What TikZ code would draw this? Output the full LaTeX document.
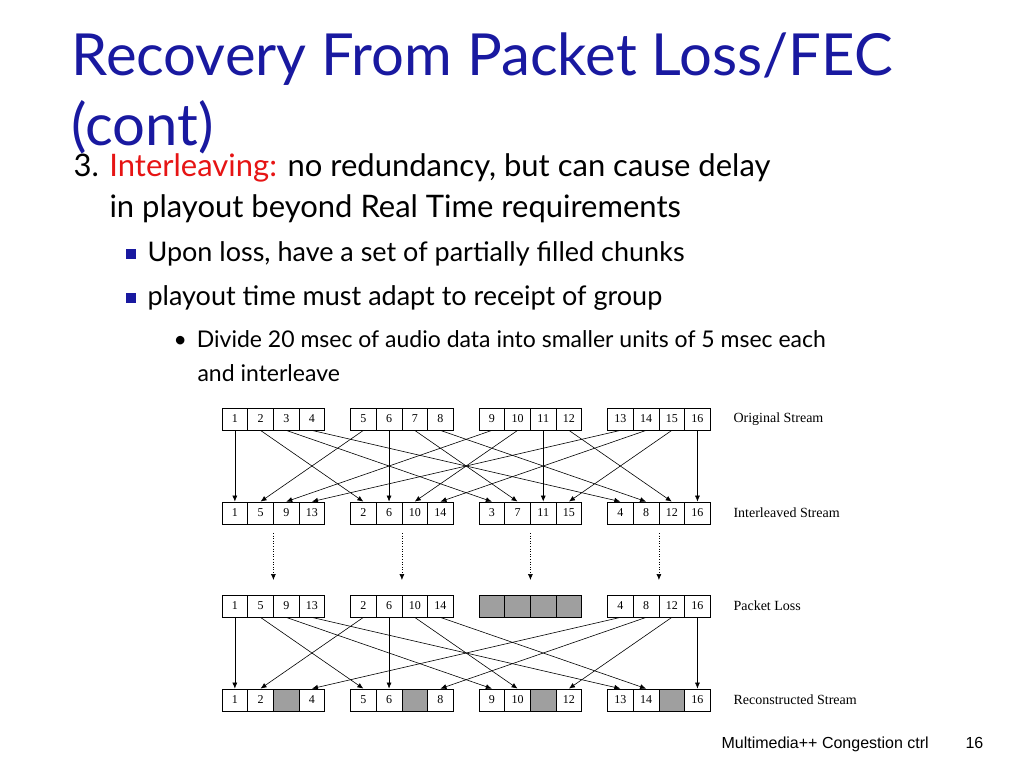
\documentclass[tikz,border=0pt]{standalone}
\usepackage{fontspec}
\setmainfont{Lato}
\newfontfamily\cellfont{Liberation Serif}
\newfontfamily\footfont{Liberation Sans}
\usetikzlibrary{arrows.meta}
\definecolor{titleblue}{RGB}{25,25,160}
\definecolor{hired}{RGB}{230,20,20}
\newcommand{\sqbullet}{\textcolor{titleblue}{\rule[2pt]{10pt}{10pt}}}

\begin{document}
\begin{tikzpicture}[x=1pt,y=-1pt,>={Latex[length=6pt,width=5pt]}]

  \tikzstyle{cell}=[draw,line width=0.8pt,minimum width=25.7pt,minimum height=22pt,
    inner sep=0pt,font=\cellfont\fontsize{12}{12}\selectfont]
  \tikzstyle{lost}=[cell,fill=gray!75]
  \tikzstyle{rowlabel}=[anchor=west,font=\cellfont\fontsize{14}{14}\selectfont]
  \tikzstyle{map}=[->,line width=0.6pt]
  \tikzstyle{send}=[->,line width=0.6pt,dotted]

  \useasboundingbox (0,0) rectangle (1024,768);

  \node[anchor=base west,text=titleblue,font=\fontsize{58}{58}\selectfont] (title) at (68,75) {Recovery From Packet Loss/FEC};
  \node[anchor=base west,text=titleblue,font=\fontsize{58}{58}\selectfont] (cont) at (68,145) {(cont)};
  \node[anchor=base west,font=\fontsize{31}{31}\selectfont] (b3) at (70,176) {3. \textcolor{hired}{Interleaving:} no redundancy, but can cause delay};
  \node[anchor=base west,font=\fontsize{31}{31}\selectfont] (b3b) at (106,217) {in playout beyond Real Time requirements};
  \node[anchor=base west,font=\fontsize{27}{27}\selectfont] (s1) at (122,261) {\sqbullet\hspace{12pt}Upon loss, have a set of partially filled chunks};
  \node[anchor=base west,font=\fontsize{27}{27}\selectfont] (s2) at (122,305) {\sqbullet\hspace{12pt}playout time must adapt to receipt of group};
  \node[anchor=base west,font=\fontsize{23}{23}\selectfont] (t1) at (170,347) {\textbullet\hspace{10pt}Divide 20 msec of audio data into smaller units of 5 msec each};
  \node[anchor=base west,font=\fontsize{23}{23}\selectfont] (t2) at (194,381) {and interleave};
  \node[anchor=base west,font=\footfont\fontsize{16}{16}\selectfont] (foot) at (718,748) {Multimedia++ Congestion ctrl};
  \node[anchor=base west,font=\footfont\fontsize{16}{16}\selectfont] (page) at (962,748) {16};

  % cells: group g, slot s
  \foreach \v in {1,...,16} {
    \pgfmathtruncatemacro{\g}{div(\v-1,4)}
    \pgfmathtruncatemacro{\s}{mod(\v-1,4)}
    \pgfmathtruncatemacro{\w}{\s*4+\g+1}
    \pgfmathsetmacro{\cx}{222+128.5*\g+12.85+25.7*\s}
    \node[cell] (o\v) at (\cx,419) {\v};
    \node[cell] (i\w) at (\cx,513) {\w};
    \ifnum\g=2
      \node[lost] (p\w) at (\cx,606) {};
    \else
      \node[cell] (p\w) at (\cx,606) {\w};
    \fi
    \ifnum\s=2
      \node[lost] (r\v) at (\cx,700) {};
    \else
      \node[cell] (r\v) at (\cx,700) {\v};
    \fi
  }

  \node[rowlabel] (lo) at (730,419) {Original Stream};
  \node[rowlabel] (li) at (730,513) {Interleaved Stream};
  \node[rowlabel] (lp) at (730,606) {Packet Loss};
  \node[rowlabel] (lr) at (730,700) {Reconstructed Stream};

  \foreach \v in {1,...,16} {
    \draw[map] (o\v.south) -- (i\v.north);
    \pgfmathtruncatemacro{\s}{mod(\v-1,4)}
    \ifnum\s=2 \else \draw[map] (p\v.south) -- (r\v.north); \fi
  }

  \foreach \a/\b in {5/9,6/10,7/11,8/12}
    \draw[send] (barycentric cs:i\a=1,i\b=1) ++(0,20) -- ++(0,47);

\end{tikzpicture}
\end{document}
